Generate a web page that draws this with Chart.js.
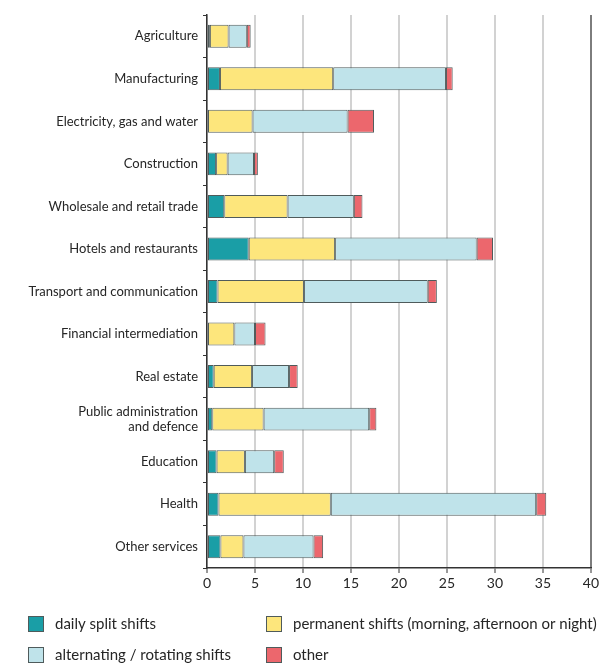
<!DOCTYPE html>
<html>
<head>
<meta charset="utf-8">
<script src="https://cdn.jsdelivr.net/npm/chart.js@4"></script>
<style>
    html, body { margin: 0; padding: 0; background: #fff; }
    #wrap { width: 601px; height: 663px; }
</style>
</head>
<body>
<div id="wrap"><canvas id="myChart" width="601" height="663"></canvas></div>
<script>
const sectors = [
    'Agriculture',
    'Manufacturing',
    'Electricity, gas and water',
    'Construction',
    'Wholesale and retail trade',
    'Hotels and restaurants',
    'Transport and communication',
    'Financial intermediation',
    'Real estate',
    ['Public administration', 'and defence'],
    'Education',
    'Health',
    'Other services'
];
const dailySplit  = [0.3, 1.35, 0,    0.95, 1.8, 4.35, 1.1, 0,    0.7,  0.55, 1.0,  1.2,  1.4];
const permanent   = [1.95, 11.8, 4.75, 1.2,  6.6, 9.0,  9.0, 2.85, 4.0,  5.35, 2.95, 11.7, 2.4];
const alternating = [1.9, 11.75, 9.9,  2.75, 6.9, 14.75, 12.9, 2.15, 3.85, 11.0, 3.05, 21.4, 7.3];
const other       = [0.4, 0.7,  2.75, 0.4,  0.9, 1.7,  0.95, 1.1,  0.9,  0.75, 1.0,  1.05, 1.0];
const xTicks = [0, 5, 10, 15, 20, 25, 30, 35, 40];

const font = 'Lato';
const textColor = '#262626';
const edge = '#4f5b5b';

function series(label, data, color) {
    return {
        label: label,
        data: data,
        backgroundColor: color,
        borderColor: edge,
        borderWidth: 1,
        borderSkipped: false,
        categoryPercentage: 1,
        barPercentage: 0.54
    };
}

// two-column legend under the axis, filled row by row
const bottomLegend = {
    id: 'bottomLegend',
    afterDraw(chart) {
        const c = chart.ctx;
        const sets = chart.data.datasets;
        const cols = [28, 266];
        const rows = [624, 655];
        c.save();
        c.font = '15px ' + font;
        c.textBaseline = 'middle';
        sets.forEach((ds, i) => {
            const x = cols[i % 2];
            const y = rows[Math.floor(i / 2)];
            c.fillStyle = ds.backgroundColor;
            c.fillRect(x, y - 8, 16, 16);
            c.strokeStyle = edge;
            c.lineWidth = 1;
            c.strokeRect(x + 0.5, y - 7.5, 15, 15);
            c.fillStyle = textColor;
            c.fillText(ds.label, x + 27, y);
        });
        c.restore();
    }
};

const ctx = document.getElementById('myChart');

new Chart(ctx, {
    type: 'bar',
    data: {
        labels: sectors,
        datasets: [
            series('daily split shifts', dailySplit, '#1a9ea6'),
            series('permanent shifts (morning, afternoon or night)', permanent, '#fde67c'),
            series('alternating / rotating shifts', alternating, '#bfe3ea'),
            series('other', other, '#ec676d')
        ]
    },
    options: {
        responsive: false,
        animation: false,
        events: [],
        indexAxis: 'y',
        layout: { padding: { top: 15, right: 9, left: 0, bottom: 0 } },
        scales: {
            x: {
                stacked: true,
                min: 0,
                max: 40,
                afterBuildTicks(scale) {
                    scale.ticks = xTicks.map(v => ({ value: v }));
                },
                afterFit(scale) { scale.height = 95; },
                ticks: {
                    color: textColor,
                    padding: 2,
                    font: { family: font, size: 14 }
                },
                grid: {
                    color: c => c.tick && c.tick.value === 40 ? '#7d7d7d' : '#d2d2d2',
                    lineWidth: 2,
                    tickLength: 5,
                    tickColor: '#333',
                    tickWidth: 1
                },
                border: { display: true, color: '#333', width: 1.5 }
            },
            y: {
                stacked: true,
                afterFit(scale) { scale.width = 207; },
                ticks: {
                    color: textColor,
                    padding: 5,
                    font: { family: font, size: 13 }
                },
                grid: {
                    drawOnChartArea: false,
                    tickLength: 4,
                    tickColor: '#333',
                    offset: true
                },
                border: { display: true, color: '#333', width: 1.5 }
            }
        },
        plugins: {
            legend: { display: false },
            tooltip: { enabled: false }
        }
    },
    plugins: [bottomLegend]
});
</script>
</body>
</html>
